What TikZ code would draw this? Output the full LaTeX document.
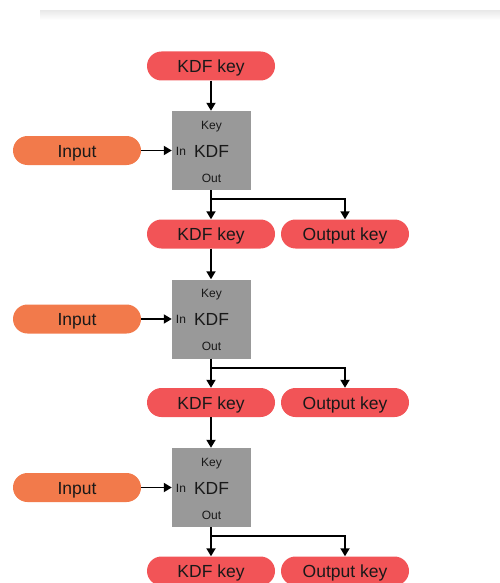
\documentclass[tikz,border=0pt]{standalone}
\usepackage{fontspec}
\setmainfont{Liberation Sans}
\usetikzlibrary{arrows.meta,calc}
\definecolor{keyred}{HTML}{F25457}
\definecolor{inorange}{HTML}{F27A4B}
\definecolor{kdfgray}{HTML}{999999}
\tikzset{
  pill/.style={draw=none, minimum width=128pt, minimum height=29pt,
    rounded corners=14.5pt, inner sep=0pt, text height=13.5pt, text depth=0pt,
    font=\fontsize{17.5}{17.5}\selectfont, text=black!90},
  keypill/.style={pill, fill=keyred},
  inpill/.style={pill, fill=inorange},
  kdfbox/.style={fill=kdfgray, minimum width=79pt, minimum height=79pt, inner sep=0pt,
    text height=13pt, text depth=0pt, font=\fontsize{17.5}{17.5}\selectfont, text=black!90},
  portlbl/.style={font=\fontsize{12}{12}\selectfont, inner sep=0pt, text height=9pt, text depth=0pt, text=black!90},
  arr/.style={line width=1.8pt, -{Triangle[length=8pt,width=9pt]}},
}
\begin{document}
\begin{tikzpicture}[x=1pt,y=-1pt]
\useasboundingbox (0,0) rectangle (500,583);
% header bar with its soft shadow
\shade[top color=black!9, bottom color=white] (40,10) rectangle (500,20);
\fill[white] (30,0) rectangle (500,10);

\node[keypill] (k0) at (211,66) {KDF key};
\foreach \i/\y in {1/150.5,2/319,3/487.5}{
  \node[kdfbox] (f\i) at (211.5,\y) {KDF};
  \node[portlbl] (fk\i) at (211.5,\y-26) {Key};
  \node[portlbl] (fo\i) at (211.5,\y+27) {Out};
  \node[portlbl] (fi\i) at (181,\y) {In};
  \node[inpill] (in\i) at (77,\y) {Input};
  \node[keypill] (k\i) at (211,\y+83.5) {KDF key};
  \node[keypill] (o\i) at (345,\y+83.5) {Output key};
  \draw[arr] (in\i.east) -- (f\i.west);
  \draw[arr] (f\i.south -| k\i.north) -- (k\i.north);
  \coordinate (b\i) at ($(f\i.south -| k\i.north)+(0,9)$);
  \draw[arr] (b\i) -| (o\i.north);
}
\draw[arr] (k0.south) -- (f1.north -| k0.south);
\draw[arr] (k1.south) -- (f2.north -| k1.south);
\draw[arr] (k2.south) -- (f3.north -| k2.south);
\end{tikzpicture}
\end{document}
